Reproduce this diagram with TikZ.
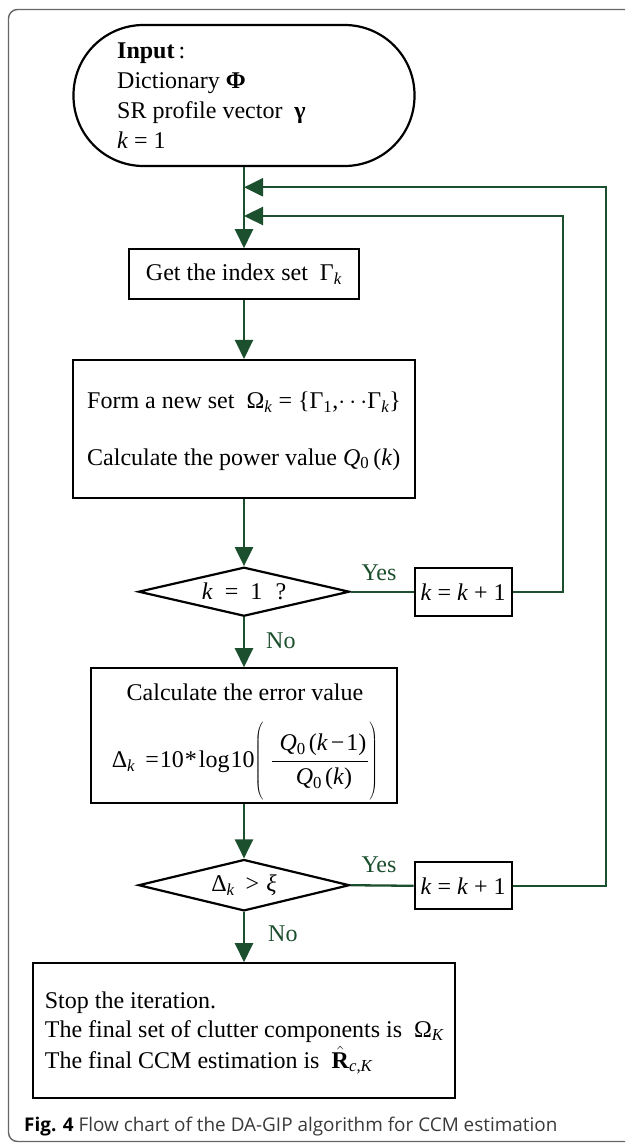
\documentclass[tikz,border=0pt]{standalone}
\usepackage{fontspec}
\setmainfont{Liberation Serif}
\newfontfamily\capfont{Open Sans}
\usetikzlibrary{shapes.geometric,arrows.meta}
\definecolor{flowgreen}{HTML}{1C4F2E}
\definecolor{capgray}{HTML}{3A3A3A}
\newcommand\ksub{\textsubscript{\textit{k}}}
\begin{document}
\begin{tikzpicture}[x=1pt,y=-1pt,
  box/.style={draw=black, line width=2.2pt, inner sep=0pt, font=\fontsize{24}{30}\selectfont},
  flow/.style={draw=flowgreen, line width=2.3pt},
  arr/.style={flow, -{Triangle[length=19pt,width=18pt]}},
  lbl/.style={text=flowgreen, inner sep=0pt, font=\fontsize{24}{28}\selectfont},
  txt/.style={inner sep=0pt, font=\fontsize{24}{30}\selectfont}]
\useasboundingbox (0,0) rectangle (625,1143);
\fill[white] (0,0) rectangle (625,1143);
% outer frame
\draw[black!60, line width=1.4pt, rounded corners=9pt] (625,9.5) -- (8.5,9.5) -- (8.5,1141.5) -- (625,1141.5);
% terminal
\node[box, rectangle, rounded corners=70pt, minimum width=341pt, minimum height=141pt] (term) at (244,95.5) {};
\node[txt, anchor=base west] (termtxt) at (117,58) {\begin{tabular}[t]{@{}l@{}}\textbf{Input}\,:\\ Dictionary \textbf{Φ}\\ SR profile vector\ \ \textbf{γ}\\ \textit{k} = 1\end{tabular}};
% get index set
\node[box, minimum width=230pt, minimum height=50pt] (get) at (244,274.3) {Get the index set\ \ Γ\ksub};
% form
\node[box, minimum width=341.7pt, minimum height=137.7pt] (form) at (244,428.9) {};
\node[txt, anchor=base west] (formtxt) at (87,408.3) {\begin{tabular}[t]{@{}l@{}}Form a new set\ \ Ω\ksub\ = \{Γ\textsubscript{1},$\cdots$Γ\ksub\}\\[26.7pt] Calculate the power value \textit{Q}\textsubscript{0}\,(\textit{k})\end{tabular}};
% decision 1
\node[box, diamond, aspect=4.3, minimum width=211pt, minimum height=49pt] (d1) at (244,591.7) {\textit{k}\hspace{0.5em}=\hspace{0.5em}1\hspace{0.55em}?};
\node[box, minimum width=97pt, minimum height=48pt] (k1) at (463.2,591.7) {\textit{k} = \textit{k} + 1};
\node[lbl, anchor=base] (yes1) at (379,580) {Yes};
\node[lbl, anchor=base west] (no1) at (266,648.3) {No};
% error box
\node[box, minimum width=306.2pt, minimum height=135pt] (err) at (244,735.8) {};
\node[txt, anchor=base] (errtxt) at (245,700) {Calculate the error value};
\node[txt] (errfrm) at (245,761.7) {Δ\ksub\hspace{10pt}=\hspace{1pt}10\hspace{1pt}*\hspace{2pt}log\hspace{1pt}10$\left(\vrule height 46pt depth 34pt width 0pt\hspace{7pt}\displaystyle\frac{\hspace{8pt}\mbox{\textit{Q}\textsubscript{0}\hspace{3pt}(\textit{k}\hspace{3pt}−\hspace{2pt}1)}\hspace{2pt}}{\hspace{8pt}\mbox{\textit{Q}\textsubscript{0}\hspace{3pt}(\textit{k})}}\right)$};
% decision 2
\node[box, diamond, aspect=4.1, minimum width=211pt, minimum height=51.4pt] (d2) at (244,885.2) {Δ\ksub\hspace{0.45em}>\hspace{0.3em}\textit{ξ}};
\node[box, minimum width=97pt, minimum height=47pt] (k2) at (463.2,885.8) {\textit{k} = \textit{k} + 1};
\node[lbl, anchor=base] (yes2) at (379,872.7) {Yes};
\node[lbl, anchor=base west] (no2) at (268,941.7) {No};
% stop box
\node[box, minimum width=422.6pt, minimum height=135pt] (stop) at (244,1030.8) {};
\node[txt, anchor=base west, font=\fontsize{24}{28.9}\selectfont] (stoptxt) at (44.7,1008.3) {\begin{tabular}[t]{@{}l@{}}Stop the iteration.\\ The final set of clutter components is\ \ Ω\textsubscript{\textit{K}}\\ The final CCM estimation is\ \ $\hat{\mbox{\textbf{R}}}$\textsubscript{\textit{c},\textit{K}}\end{tabular}};
% caption
\node[inner sep=0pt, anchor=base west, font=\capfont\fontsize{18.9}{22}\selectfont] (cap) at (24,1131) {\textbf{Fig. 4} \textcolor{capgray}{Flow chart of the DA-GIP algorithm for CCM estimation}};
% loop coordinates
\coordinate (m1) at (244,187.3);
\coordinate (r1) at (606,187.3);
\coordinate (m2) at (244,216);
\coordinate (r2) at (563,216);
% connectors
\draw[arr] (term.south) -- (get.north);
\draw[arr] (k2.east) -| (r1) -- (m1);
\draw[arr] (k1.east) -| (r2) -- (m2);
\draw[arr] (get.south) -- (form.north);
\draw[arr] (form.south) -- (d1.north);
\draw[flow] (d1.east) -- (k1.west);
\draw[arr] (d1.south) -- (err.north);
\draw[arr] (err.south) -- (d2.north);
\draw[flow] (d2.east) -- (k2.west);
\draw[arr] (d2.south) -- (stop.north);
\end{tikzpicture}
\end{document}
